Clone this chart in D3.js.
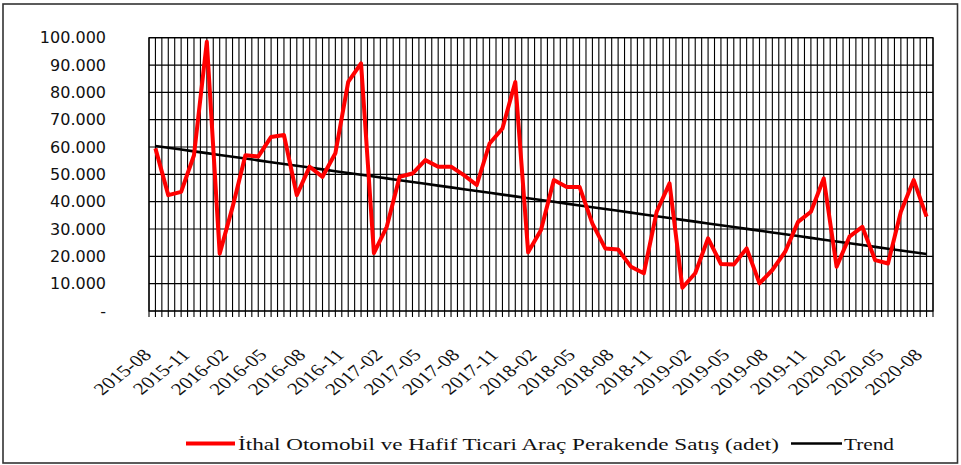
<!DOCTYPE html>
<html>
<head>
<meta charset="utf-8">
<script src="https://cdn.jsdelivr.net/npm/d3@7"></script>
<style>
  html, body { margin: 0; padding: 0; background: #fff; }
  svg { display: block; }
</style>
</head>
<body>
<svg id="chart" width="961" height="465"></svg>
<script>
// ---- data ----
const months = [
  "2015-08","2015-09","2015-10","2015-11","2015-12",
  "2016-01","2016-02","2016-03","2016-04","2016-05","2016-06","2016-07","2016-08","2016-09","2016-10","2016-11","2016-12",
  "2017-01","2017-02","2017-03","2017-04","2017-05","2017-06","2017-07","2017-08","2017-09","2017-10","2017-11","2017-12",
  "2018-01","2018-02","2018-03","2018-04","2018-05","2018-06","2018-07","2018-08","2018-09","2018-10","2018-11","2018-12",
  "2019-01","2019-02","2019-03","2019-04","2019-05","2019-06","2019-07","2019-08","2019-09","2019-10","2019-11","2019-12",
  "2020-01","2020-02","2020-03","2020-04","2020-05","2020-06","2020-07","2020-08"
];
const sales = [
  59500, 42400, 43600, 57000, 98500,
  21000, 38000, 57000, 56500, 63700, 64400, 42400, 52800, 49100, 57700, 83800, 90600,
  21200, 30800, 49100, 50300, 55200, 52800, 52800, 49700, 46100, 61300, 66800, 83800,
  21500, 29600, 47900, 45400, 45400, 32000, 22900, 22500, 16200, 13800, 36300, 46700,
  8500, 13800, 26600, 17200, 17000, 22900, 10100, 15000, 21700, 32600, 36300, 48500,
  16200, 27200, 30800, 18600, 17400, 36300, 47900, 34500
];
const yTicks = [0, 10000, 20000, 30000, 40000, 50000, 60000, 70000, 80000, 90000, 100000];
const xLabelMonths = months.filter((m, i) => i % 3 === 0);
const seriesName = "İthal Otomobil ve Hafif Ticari Araç Perakende Satış (adet)";
const trendName = "Trend";

// ---- trend (least squares on the series) ----
const n = sales.length;
const mx = d3.mean(d3.range(n)), my = d3.mean(sales);
const slope = d3.sum(d3.range(n), i => (i - mx) * (sales[i] - my)) / d3.sum(d3.range(n), i => (i - mx) * (i - mx));
const icpt = my - slope * mx;
const trend = sales.map((_, i) => icpt + slope * i);

// ---- layout ----
const svg = d3.select("#chart");
const L = 149, R = 933, T = 37.7, B = 311;

svg.append("rect").attr("x", 3).attr("y", 4).attr("width", 954.5).attr("height", 459)
  .attr("fill", "#fff").attr("stroke", "#333").attr("stroke-width", 1.6);

const x = d3.scaleBand().domain(months).range([L, R]).paddingInner(0).paddingOuter(0);
const bw = x.bandwidth();
const cx = m => x(m) + bw / 2;
const y = d3.scaleLinear().domain([0, 100000]).range([B, T]);

// grid
const g = svg.append("g");
g.selectAll("line.h").data(yTicks).join("line")
  .attr("x1", L).attr("x2", R).attr("y1", d => y(d)).attr("y2", d => y(d))
  .attr("stroke", "#000").attr("stroke-width", 1.2);
const halfSteps = d3.range(0, months.length * 2 + 1);
g.selectAll("line.v").data(halfSteps).join("line")
  .attr("x1", k => L + k * bw / 2).attr("x2", k => L + k * bw / 2)
  .attr("y1", T).attr("y2", B + 6)
  .attr("stroke", "#000").attr("stroke-width", 1.1);
g.append("rect").attr("x", L).attr("y", T).attr("width", R - L).attr("height", B - T)
  .attr("fill", "none").attr("stroke", "#000").attr("stroke-width", 1.2);

// y labels
const fmt = v => v === 0 ? "-" : d3.format(",")(v).replace(/,/g, ".");
svg.append("g").selectAll("text").data(yTicks).join("text")
  .attr("x", 106).attr("y", d => y(d)).attr("dy", "0.35em")
  .attr("text-anchor", "end")
  .attr("font-family", "DejaVu Sans, sans-serif").attr("font-size", 16)
  .attr("fill", "#111")
  .text(fmt);

// x labels
svg.append("g").selectAll("text").data(xLabelMonths).join("text")
  .attr("transform", d => `translate(${cx(d) - 3},${356}) scale(1.25,1) rotate(-45)`)
  .attr("text-anchor", "end")
  .attr("font-family", "Liberation Serif, Times New Roman, serif").attr("font-size", 17)
  .attr("fill", "#111")
  .text(d => d);

// lines
const line = d3.line().x((d, i) => cx(months[i])).y(d => y(d));
svg.append("path").datum(trend).attr("d", line)
  .attr("fill", "none").attr("stroke", "#000").attr("stroke-width", 2.6);
svg.append("path").datum(sales).attr("d", line)
  .attr("fill", "none").attr("stroke", "#ff0000").attr("stroke-width", 4)
  .attr("stroke-linejoin", "round");

// legend
const lg = svg.append("g");
lg.append("line").attr("x1", 186).attr("x2", 235).attr("y1", 443.5).attr("y2", 443.5)
  .attr("stroke", "#ff0000").attr("stroke-width", 4);
lg.append("text").attr("x", 238).attr("y", 450)
  .attr("font-family", "Liberation Serif, Times New Roman, serif").attr("font-size", 17.5)
  .attr("textLength", 541).attr("lengthAdjust", "spacingAndGlyphs")
  .attr("fill", "#111").text(seriesName);
lg.append("line").attr("x1", 791).attr("x2", 842).attr("y1", 443.5).attr("y2", 443.5)
  .attr("stroke", "#000").attr("stroke-width", 2.6);
lg.append("text").attr("x", 844).attr("y", 450)
  .attr("font-family", "Liberation Serif, Times New Roman, serif").attr("font-size", 17.5)
  .attr("textLength", 50).attr("lengthAdjust", "spacingAndGlyphs")
  .attr("fill", "#111").text(trendName);
</script>
</body>
</html>
